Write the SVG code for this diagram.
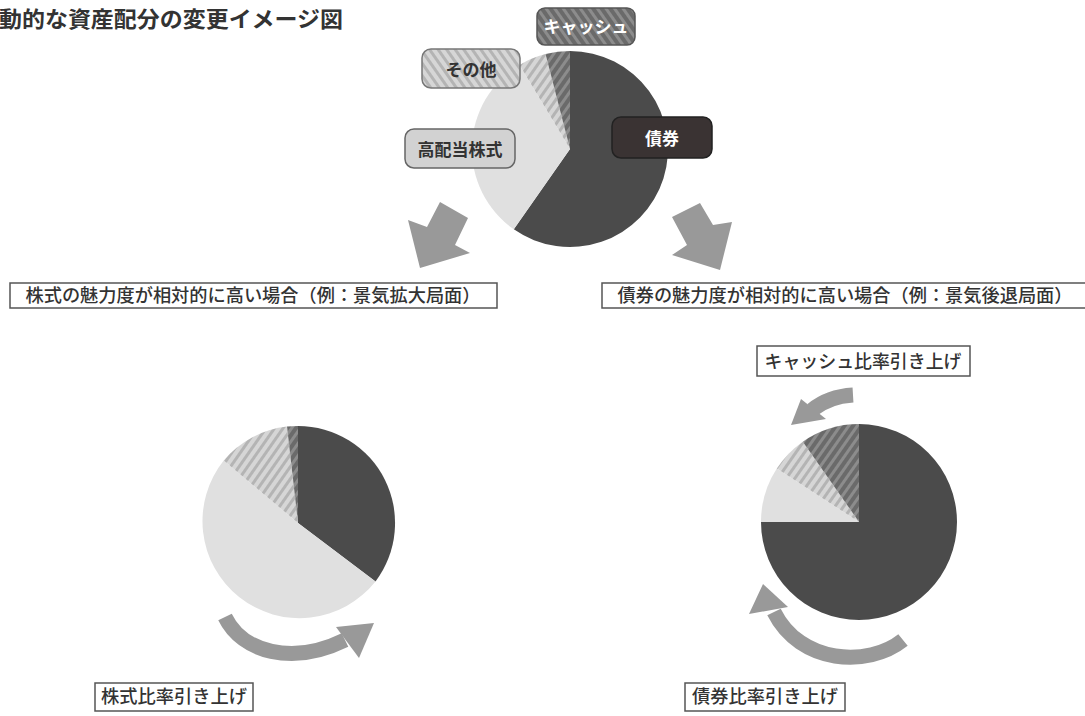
<svg xmlns="http://www.w3.org/2000/svg" width="1085" height="716" viewBox="0 0 1085 716">
<defs>
<pattern id="hatchDark" patternUnits="userSpaceOnUse" width="7" height="7" patternTransform="rotate(35)">
<rect width="7" height="7" fill="#6a6a6a"/><rect width="3" height="7" fill="#8c8c8c"/>
</pattern>
<pattern id="hatchLight" patternUnits="userSpaceOnUse" width="7" height="7" patternTransform="rotate(35)">
<rect width="7" height="7" fill="#d6d6d6"/><rect width="3" height="7" fill="#b4b4b4"/>
</pattern>
<pattern id="hatchDarkL" patternUnits="userSpaceOnUse" width="7" height="7" patternTransform="rotate(-35)">
<rect width="7" height="7" fill="#6a6a6a"/><rect width="3" height="7" fill="#8c8c8c"/>
</pattern>
<pattern id="hatchLightL" patternUnits="userSpaceOnUse" width="7" height="7" patternTransform="rotate(-35)">
<rect width="7" height="7" fill="#d6d6d6"/><rect width="3" height="7" fill="#b4b4b4"/>
</pattern>
</defs>
<style>
text{font-family:"Noto Sans CJK JP","Noto Sans",sans-serif;}
.bond{fill:#4b4b4b;}
.stock{fill:#e0e0e0;}
.other{fill:url(#hatchLight);}
.cash{fill:url(#hatchDark);}
.box{fill:#ffffff;stroke:#555555;stroke-width:1.5;}
.lbl{font-size:18px;fill:#333333;text-anchor:middle;font-weight:500;}
.tag{font-size:17px;text-anchor:middle;font-weight:bold;}
.big{fill:#999999;}
.curve{fill:none;stroke:#999999;stroke-width:15;}
</style>
<rect width="1085" height="716" fill="#ffffff"/>
<text x="-1" y="27" textLength="344" lengthAdjust="spacingAndGlyphs" style="font-size:22px;font-weight:bold;fill:#333333;">動的な資産配分の変更イメージ図</text>

<g id="pie-top">
<path class="bond" d="M570,149 L570,51 A98,98 0 1,1 513.8,229.3 Z"/>
<path class="stock" d="M570,149 L513.8,229.3 A98,98 0 0,1 519.5,65 Z"/>
<path class="other" d="M570,149 L519.5,65 A98,98 0 0,1 545.5,54.1 Z"/>
<path class="cash" d="M570,149 L545.5,54.1 A98,98 0 0,1 570,51 Z"/>
</g>
<g id="label-cash">
<rect x="537" y="8" width="98" height="37" rx="8" fill="url(#hatchDarkL)" stroke="#555555" stroke-width="1.5"/>
<text class="tag" x="586" y="33" fill="#ffffff">キャッシュ</text>
</g>
<g id="label-other">
<rect x="422" y="49" width="98" height="39" rx="9" fill="url(#hatchLightL)" stroke="#777777" stroke-width="1.5"/>
<text class="tag" x="471" y="76" fill="#333333">その他</text>
</g>
<g id="label-stock">
<rect x="405" y="129" width="110" height="39" rx="9" fill="#d2d2d2" stroke="#666666" stroke-width="1.5"/>
<text class="tag" x="460" y="156" fill="#333333">高配当株式</text>
</g>
<g id="label-bond">
<rect x="612" y="117" width="100" height="41" rx="9" fill="#3a3333" stroke="#222222" stroke-width="1.5"/>
<text class="tag" x="662" y="145" fill="#ffffff">債券</text>
</g>

<g id="connectors">
<polygon class="big" points="440,202 468,218 455,245 470,253 420,268 408,220 427,227"/>
<polygon class="big" points="672,217 700,203 713,225 732,222 720,270 672,255 687,245"/>
<path class="curve" d="M225,617 C242,652 292,666 345,640"/>
<polygon class="big" points="336,627 374,623 359,658"/>
<path class="curve" d="M853,395 C836,396 823,401 812,410"/>
<polygon class="big" points="801,399 826,419 791,425"/>
<path class="curve" d="M903,640 C868,668 800,664 774,612"/>
<polygon class="big" points="749,614 763,584 788,607"/>
</g>

<g id="scenario-stock">
<rect class="box" x="10" y="283" width="487" height="25"/>
<text class="lbl" x="253" y="302" textLength="455" lengthAdjust="spacingAndGlyphs">株式の魅力度が相対的に高い場合（例：景気拡大局面）</text>
</g>
<g id="scenario-bond">
<rect class="box" x="602" y="283" width="490" height="25"/>
<text class="lbl" x="845" y="302" textLength="455" lengthAdjust="spacingAndGlyphs">債券の魅力度が相対的に高い場合（例：景気後退局面）</text>
</g>

<g id="pie-left">
<path class="bond" d="M298,523 L298,426 A97,97 0 0,1 375.5,581.4 Z"/>
<path class="stock" d="M298,523 L375.5,581.4 A97,97 0 1,1 223.7,460.6 Z"/>
<path class="other" d="M298,523 L223.7,460.6 A97,97 0 0,1 287,426.6 Z"/>
<path class="cash" d="M298,523 L287,426.6 A97,97 0 0,1 298,426 Z"/>
</g>
<g id="pie-right">
<path class="bond" d="M859,522 L859,424 A98,98 0 1,1 761,522 Z"/>
<path class="stock" d="M859,522 L761,522 A98,98 0 0,1 776.8,468.6 Z"/>
<path class="other" d="M859,522 L776.8,468.6 A98,98 0 0,1 802.8,441.7 Z"/>
<path class="cash" d="M859,522 L802.8,441.7 A98,98 0 0,1 859,424 Z"/>
</g>

<g id="note-cash">
<rect class="box" x="757" y="346" width="213" height="30"/>
<text class="lbl" x="863" y="368" textLength="197" lengthAdjust="spacingAndGlyphs">キャッシュ比率引き上げ</text>
</g>
<g id="note-stock">
<rect class="box" x="95" y="683" width="158" height="28"/>
<text class="lbl" x="174" y="703" textLength="146" lengthAdjust="spacingAndGlyphs">株式比率引き上げ</text>
</g>
<g id="note-bond">
<rect class="box" x="685" y="683" width="160" height="28"/>
<text class="lbl" x="765" y="703" textLength="146" lengthAdjust="spacingAndGlyphs">債券比率引き上げ</text>
</g>
</svg>
